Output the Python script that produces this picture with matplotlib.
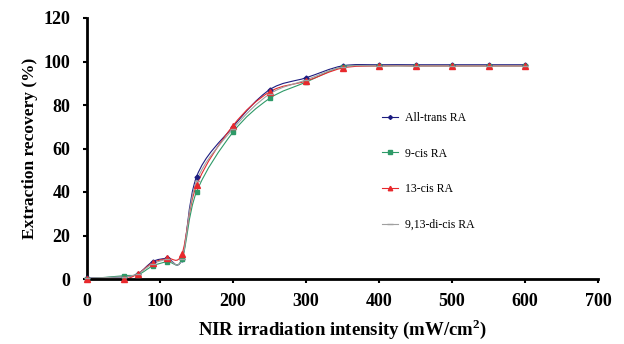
import numpy as np
import matplotlib
matplotlib.use("Agg")
import matplotlib.pyplot as plt
from matplotlib.path import Path
from matplotlib.patches import PathPatch

plt.rcParams['font.family'] = ['Liberation Serif', 'DejaVu Serif']
plt.rcParams['mathtext.fontset'] = 'custom'
plt.rcParams['mathtext.bf'] = 'Liberation Serif:bold'
plt.rcParams['mathtext.rm'] = 'Liberation Serif'

intensity = [0, 50, 70, 90, 110, 130, 150, 200, 250, 300, 350, 400, 450, 500, 550, 600]
all_trans = [0.5, 1.0, 2.5, 8.0, 9.5, 9.0, 47.0, 70.0, 87.0, 92.5, 98.0, 98.5, 98.5, 98.5, 98.5, 98.5]
cis9 = [0.0, 1.5, 2.0, 6.0, 8.0, 9.0, 40.0, 67.5, 83.0, 90.5, 97.5, 98.0, 98.0, 98.0, 98.0, 98.0]
cis13 = [0.0, 0.0, 2.5, 7.5, 9.5, 11.5, 43.0, 70.5, 86.0, 91.0, 97.0, 98.0, 98.0, 98.0, 98.0, 98.0]
dicis = [0.5, 1.0, 2.5, 7.0, 9.0, 9.0, 45.0, 69.0, 85.0, 91.5, 97.5, 98.0, 98.0, 98.0, 98.0, 98.0]

labels = ['All-trans RA', '9-cis RA', '13-cis RA', '9,13-di-cis RA']
colors = ['#1c1c80', '#2e9a68', '#e8282c', '#a0a0a0']
markers = ['D', 's', '^', '_']
msizes = [2.5, 3.5, 4, 5]


def smooth_path(xs, ys):
    # Excel-style smoothed line: Catmull-Rom control points as cubic Bezier
    verts = [(xs[0], ys[0])]
    codes = [Path.MOVETO]
    n = len(xs)
    for i in range(n - 1):
        x0, y0 = (xs[i - 1], ys[i - 1]) if i > 0 else (xs[i], ys[i])
        x1, y1 = xs[i], ys[i]
        x2, y2 = xs[i + 1], ys[i + 1]
        x3, y3 = (xs[i + 2], ys[i + 2]) if i + 2 < n else (x2, y2)
        t = 1 / 6
        verts += [(x1 + (x2 - x0) * t, y1 + (y2 - y0) * t),
                  (x2 - (x3 - x1) * t, y2 - (y3 - y1) * t),
                  (x2, y2)]
        codes += [Path.CURVE4] * 3
    return Path(verts, codes)


fig = plt.figure(figsize=(6.24, 3.44), dpi=100)
ax = fig.add_axes([87 / 624, 1 - 279 / 344, 511 / 624, 261 / 344])

for ys, lab, c, m, ms in zip([all_trans, cis9, cis13, dicis], labels, colors, markers, msizes):
    ax.add_patch(PathPatch(smooth_path(intensity, ys), facecolor='none', edgecolor=c, lw=0.8))
    ax.plot(intensity, ys, linestyle='none', marker=m, color=c, ms=ms, mew=1, clip_on=False, zorder=3)
    ax.plot([], [], color=c, lw=0.8, marker=m, ms=ms * 0.8, label=lab)

ax.set_xlim(0, 700)
ax.set_ylim(0, 120)
ax.set_xticks(np.arange(0, 701, 100))
ax.set_yticks(np.arange(0, 121, 20))
for s in ['top', 'right']:
    ax.spines[s].set_visible(False)
for s in ['left', 'bottom']:
    ax.spines[s].set_linewidth(2)
ax.tick_params(width=1.5, length=3, labelsize=13)
ax.tick_params(axis='x', pad=7)
ax.tick_params(axis='y', pad=9)
for t in ax.get_xticklabels() + ax.get_yticklabels():
    t.set_fontweight('bold')

ax.set_xlabel('NIR irradiation intensity (mW/cm$^\\mathbf{2}$)', fontsize=13.5, fontweight='bold', labelpad=5)
ax.set_ylabel('Extraction recovery (%)', fontsize=12.5, fontweight='bold', labelpad=4)

ax.legend(loc='upper left', bbox_to_anchor=(0.577, 0.64), frameon=False, fontsize=8.5,
          handlelength=1.4, labelspacing=2.0, handletextpad=0.6,
          borderpad=0, borderaxespad=0)

fig.savefig('out.png', dpi=100)
